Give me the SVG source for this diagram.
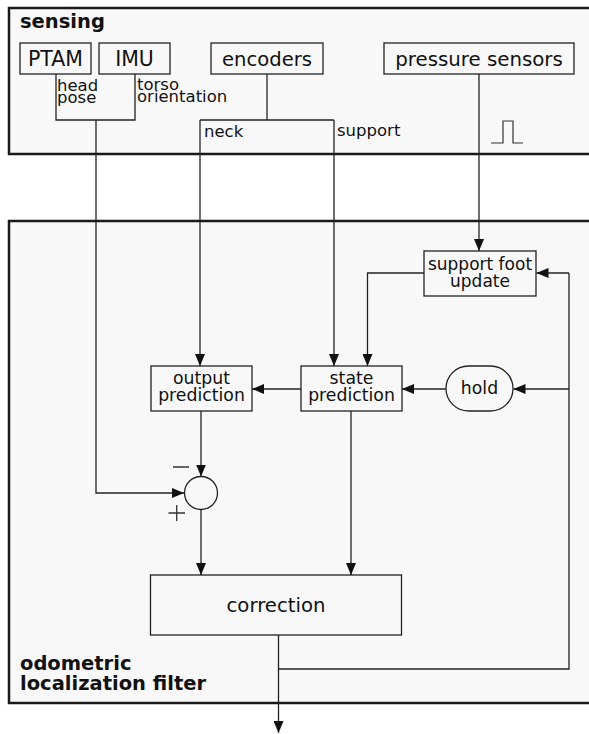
<svg xmlns="http://www.w3.org/2000/svg" width="589" height="734" viewBox="0 0 589 734">
<style>
text{font-family:"DejaVu Sans","Liberation Sans",sans-serif;fill:#111}
.box{fill:#f8f8f8;stroke:#222;stroke-width:1.3}
.cont{fill:#f8f8f8;stroke:#1a1a1a;stroke-width:2.5}
.title{font-weight:bold;font-size:19.5px}
.big{font-size:20.5px}
.mid{font-size:17.3px}
.lbl{font-size:16.5px}
.ln{fill:none;stroke:#222;stroke-width:1.3}
.arr{fill:none;stroke:#222;stroke-width:1.3;marker-end:url(#ah)}
</style>
<defs>
<marker id="ah" viewBox="0 0 12 10" refX="12" refY="5" markerWidth="12" markerHeight="10" markerUnits="userSpaceOnUse" orient="auto">
<path d="M0,0 L12,5 L0,10 z" fill="#111"/>
</marker>
</defs>
<rect width="589" height="734" fill="#fff"/>
<g id="sensing">
<rect class="cont" x="9" y="8" width="600" height="146"/>
<text class="title" x="20" y="28">sensing</text>
</g>
<g id="filter">
<rect class="cont" x="9" y="221" width="600" height="482"/>
<text class="title" x="20" y="670">odometric</text>
<text class="title" x="20" y="690">localization filter</text>
</g>
<g id="connectors">
<path class="ln" d="M56,74 V120 H135 V74"/>
<path class="arr" d="M96,120 V493 H184"/>
<path class="ln" d="M267,74 V120"/>
<path class="ln" d="M200,120 H334"/>
<path class="arr" d="M200,120 V366"/>
<path class="arr" d="M334,120 V366"/>
<path class="arr" d="M479,74 V251"/>
<path class="arr" d="M424,273 H367.5 V366"/>
<path class="arr" d="M301,389 H252"/>
<path class="arr" d="M446,389 H402"/>
<path class="arr" d="M201,411 V476.5"/>
<path class="arr" d="M201,510 V575"/>
<path class="arr" d="M351,411 V575"/>
<path class="arr" d="M278.5,635 V733"/>
<path class="ln" d="M278.5,669 H569 V273"/>
<path class="arr" d="M569,273 H536.5"/>
<path class="arr" d="M569,389 H513.5"/>
<text class="lbl" x="57" y="90.5">head</text>
<text class="lbl" x="57" y="102.5">pose</text>
<text class="lbl" x="137" y="89.5">torso</text>
<text class="lbl" x="137" y="102">orientation</text>
<text class="lbl" x="204" y="137">neck</text>
<text class="lbl" x="337" y="136">support</text>
</g>
<g id="ptam">
<rect class="box" x="20" y="43" width="71" height="31"/>
<text class="big" x="55.5" y="66" text-anchor="middle">PTAM</text>
</g>
<g id="imu">
<rect class="box" x="99" y="43" width="71" height="31"/>
<text class="big" x="134.5" y="66" text-anchor="middle">IMU</text>
</g>
<g id="encoders">
<rect class="box" x="211" y="43" width="112" height="31"/>
<text class="big" x="267" y="66" text-anchor="middle" style="font-size:19.6px">encoders</text>
</g>
<g id="pressure">
<rect class="box" x="384" y="43" width="190" height="31"/>
<text class="big" x="479" y="66" text-anchor="middle" style="font-size:19.8px">pressure sensors</text>
<path d="M491,143 H503 V121 H513 V143 H523" fill="none" stroke="#333" stroke-width="1.2"/>
</g>
<g id="support-foot-update">
<rect class="box" x="424" y="251" width="112" height="45"/>
<text class="mid" x="480" y="269.5" text-anchor="middle" style="font-size:17px">support foot</text>
<text class="mid" x="480" y="286.5" text-anchor="middle" style="font-size:17px">update</text>
</g>
<g id="output-prediction">
<rect class="box" x="151" y="366" width="101" height="45"/>
<text class="mid" x="201.5" y="384" text-anchor="middle">output</text>
<text class="mid" x="201.5" y="400.5" text-anchor="middle">prediction</text>
</g>
<g id="state-prediction">
<rect class="box" x="301" y="366" width="101" height="45"/>
<text class="mid" x="351.5" y="384" text-anchor="middle">state</text>
<text class="mid" x="351.5" y="400.5" text-anchor="middle">prediction</text>
</g>
<g id="hold">
<rect class="box" x="446" y="366" width="67" height="45" rx="22.5" ry="22.5"/>
<text class="mid" x="479.5" y="394" text-anchor="middle">hold</text>
</g>
<g id="sum">
<circle class="box" cx="201" cy="493" r="16.5"/>
<path d="M173,467 H189 M168.5,513 H185 M176.7,505 V521" stroke="#333" stroke-width="1.3" fill="none"/>
</g>
<g id="correction">
<rect class="box" x="150.5" y="575" width="251" height="60"/>
<text class="big" x="276" y="612" text-anchor="middle" style="font-size:19.7px">correction</text>
</g>
</svg>
